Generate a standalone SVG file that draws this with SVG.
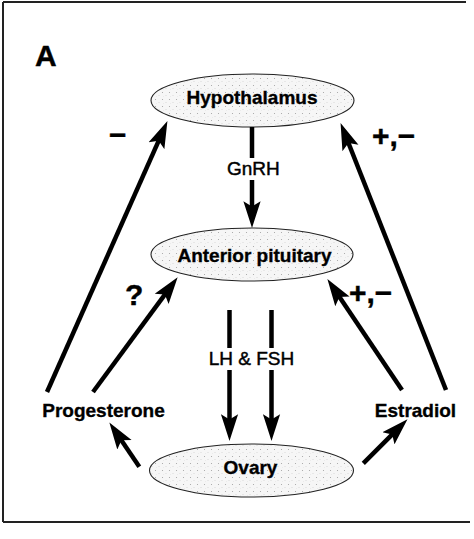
<svg xmlns="http://www.w3.org/2000/svg" width="474" height="539" viewBox="0 0 474 539">
<defs>
<pattern id="stip" width="7" height="7" patternUnits="userSpaceOnUse">
<rect width="7" height="7" fill="#f6f6f6"/>
<circle cx="1.5" cy="1.5" r="0.55" fill="#a0a0a0"/>
<circle cx="5" cy="4.5" r="0.45" fill="#b8b8b8"/>
<circle cx="2.5" cy="5.5" r="0.35" fill="#cccccc"/>
</pattern>
<marker id="ah" markerUnits="userSpaceOnUse" markerWidth="28" markerHeight="18" refX="11" refY="8" orient="auto" viewBox="0 0 26 16">
<path d="M0,0 L25,8 L0,16 L5,8 z" fill="#000"/>
</marker>
<style>
.node ellipse{fill:url(#stip);stroke:#222;stroke-width:1.1}
.lbl{font-family:"Liberation Sans",Arial,sans-serif;font-weight:bold;font-size:19px;text-anchor:middle;fill:#000;stroke:#000;stroke-width:0.35}
.reg{font-family:"Liberation Sans",Arial,sans-serif;font-size:19px;text-anchor:middle;fill:#000;stroke:#000;stroke-width:0.45}
.sign{font-family:"Liberation Sans",Arial,sans-serif;font-weight:bold;font-size:30px;fill:#000;stroke:#000;stroke-width:0.4}
.conn line{stroke:#000;stroke-width:4.5;fill:none}
.arr{marker-end:url(#ah)}
.frame{stroke:#222;stroke-width:2;fill:none}
</style>
</defs>
<rect width="474" height="539" fill="#fff"/>
<g id="frame">
<line class="frame" x1="3" y1="2" x2="466" y2="2" stroke="#444"/>
<line class="frame" x1="3" y1="2" x2="3" y2="522"/>
<line class="frame" x1="3" y1="522" x2="470" y2="522"/>
</g>
<text class="sign" x="35" y="66" font-size="31">A</text>
<g id="hypothalamus" class="node">
<ellipse cx="252.5" cy="100.5" rx="101.5" ry="26.5"/>
<text class="lbl" x="252" y="104">Hypothalamus</text>
</g>
<g id="anterior-pituitary" class="node">
<ellipse cx="252" cy="254.5" rx="101" ry="26.5"/>
<text class="lbl" x="254.5" y="262">Anterior pituitary</text>
</g>
<g id="ovary" class="node">
<ellipse cx="251.5" cy="470.5" rx="102" ry="26.5"/>
<text class="lbl" x="250.5" y="474">Ovary</text>
</g>
<g id="progesterone">
<text class="lbl" x="103.5" y="417">Progesterone</text>
</g>
<g id="estradiol">
<text class="lbl" x="415.5" y="417">Estradiol</text>
</g>
<g id="connectors" class="conn">
<line x1="252" y1="127" x2="252" y2="158"/>
<line class="arr" x1="252" y1="180" x2="252" y2="213"/>
<line x1="229.5" y1="310" x2="229.5" y2="348"/>
<line class="arr" x1="229.5" y1="370" x2="229.5" y2="426"/>
<line x1="271.5" y1="310" x2="271.5" y2="348"/>
<line class="arr" x1="271.5" y1="370" x2="271.5" y2="426"/>
<line class="arr" x1="47" y1="392" x2="161.3" y2="134.8"/>
<line class="arr" x1="446" y1="390" x2="346.1" y2="137"/>
<line class="arr" x1="93" y1="392" x2="168.7" y2="289.3"/>
<line class="arr" x1="402" y1="390" x2="335.8" y2="291.6"/>
<line class="arr" x1="139.3" y1="466.7" x2="117.8" y2="434.9"/>
<line class="arr" x1="363.3" y1="463.3" x2="396.8" y2="429.9"/>
</g>
<g id="labels">
<text class="reg" x="253.3" y="175">GnRH</text>
<text class="reg" x="251.5" y="365">LH &amp; FSH</text>
<text class="sign" x="109" y="145">−</text>
<text class="sign" x="372" y="146">+,−</text>
<text class="sign" x="125" y="305" font-size="29">?</text>
<text class="sign" x="349" y="303">+,−</text>
</g>
</svg>
